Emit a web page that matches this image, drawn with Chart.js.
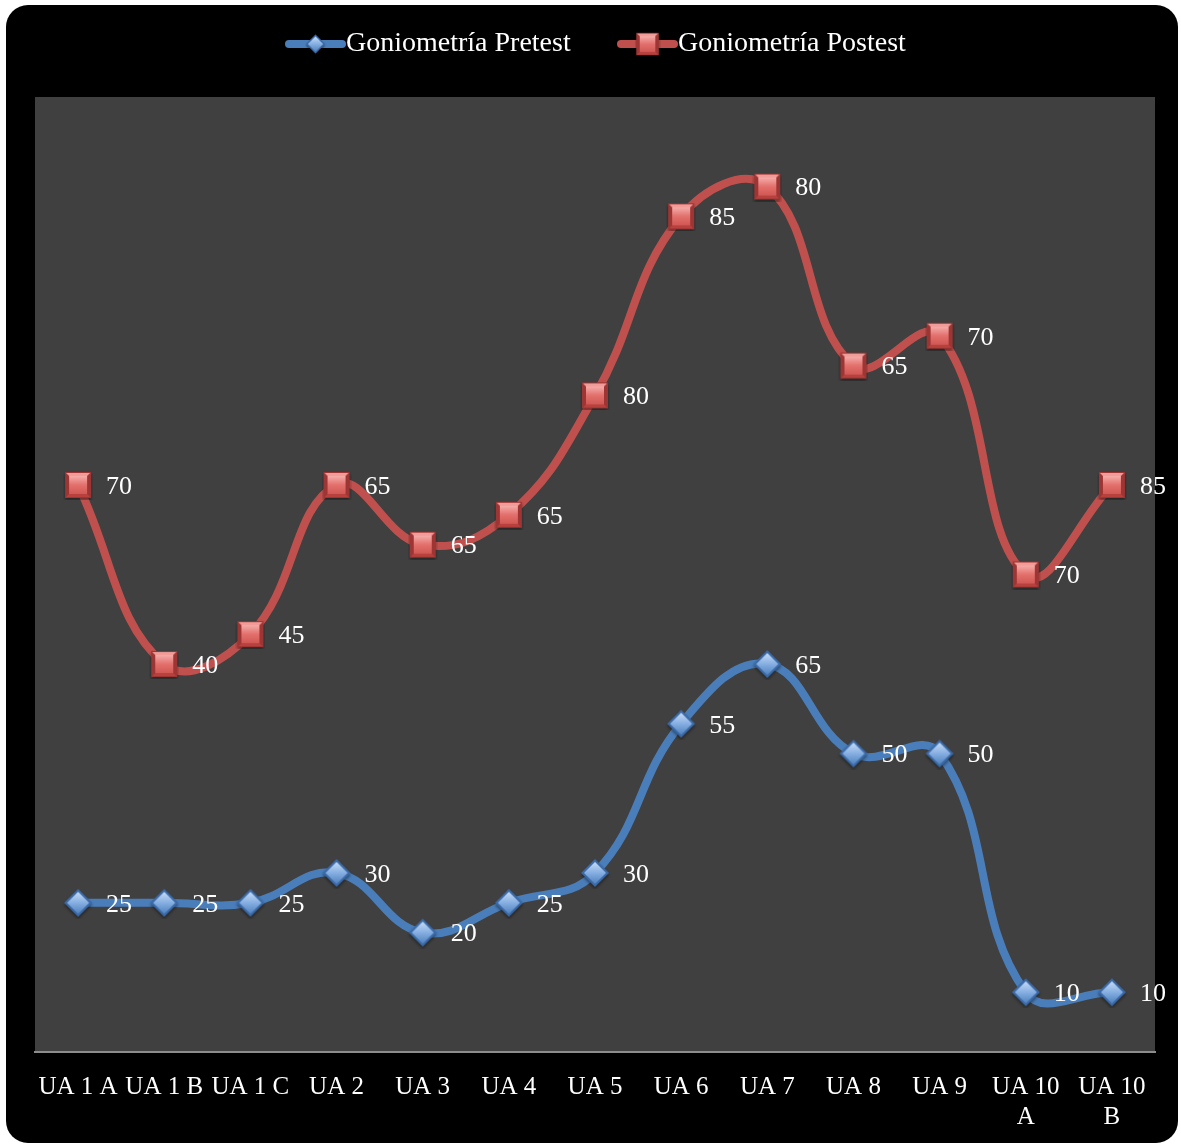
<!DOCTYPE html>
<html>
<head>
<meta charset="utf-8">
<title>Goniometría</title>
<script src="https://cdn.jsdelivr.net/npm/chart.js@4.4.1/dist/chart.umd.min.js"></script>
<style>
  html, body { margin: 0; padding: 0; background: #ffffff; }
  #wrap { position: relative; width: 1181px; height: 1145px; }
</style>
</head>
<body>
<div id="wrap"><canvas id="chart" width="1181" height="1145"></canvas></div>
<script>
// Categories and the two series (the post-test line is stacked on the pre-test one)
const categories = ['UA 1 A', 'UA 1 B', 'UA 1 C', 'UA 2', 'UA 3', 'UA 4', 'UA 5',
                    'UA 6', 'UA 7', 'UA 8', 'UA 9', 'UA 10 A', 'UA 10 B'];
const pretest  = [25, 25, 25, 30, 20, 25, 30, 55, 65, 50, 50, 10, 10];
const postest  = [70, 40, 45, 65, 65, 65, 80, 85, 80, 65, 70, 70, 85];
const seriesNames = ['Goniometría Pretest', 'Goniometría Postest'];

const FONT = "'Liberation Serif', 'Times New Roman', serif";
const BLUE = '#4a7ebb';
const RED = '#c0504d';

// Bevelled marker images
function makeDiamond(size) {
  const c = document.createElement('canvas');
  c.width = size + 4; c.height = size + 4;
  const g = c.getContext('2d');
  const cx = c.width / 2, cy = c.height / 2, r = size / 2;
  g.shadowColor = 'rgba(0,0,0,0.45)'; g.shadowBlur = 3; g.shadowOffsetY = 2;
  g.beginPath();
  g.moveTo(cx, cy - r); g.lineTo(cx + r, cy); g.lineTo(cx, cy + r); g.lineTo(cx - r, cy); g.closePath();
  g.fillStyle = '#3b6aa8'; g.fill();
  g.shadowColor = 'transparent';
  const ir = r - 3;
  const grad = g.createLinearGradient(cx, cy - ir, cx, cy + ir);
  grad.addColorStop(0, '#c6dcf6'); grad.addColorStop(0.5, '#86afe2'); grad.addColorStop(1, '#4f81bd');
  g.beginPath();
  g.moveTo(cx, cy - ir); g.lineTo(cx + ir, cy); g.lineTo(cx, cy + ir); g.lineTo(cx - ir, cy); g.closePath();
  g.fillStyle = grad; g.fill();
  return c;
}
function makeSquare(size) {
  const c = document.createElement('canvas');
  c.width = size + 4; c.height = size + 4;
  const g = c.getContext('2d');
  const x0 = 2, y0 = 2;
  g.shadowColor = 'rgba(0,0,0,0.45)'; g.shadowBlur = 3; g.shadowOffsetY = 2;
  g.fillStyle = '#9c3533'; g.fillRect(x0, y0, size, size);
  g.shadowColor = 'transparent';
  // bevel faces
  const b = 3;
  g.fillStyle = '#f19c99';
  g.beginPath(); g.moveTo(x0 + 1, y0 + 1); g.lineTo(x0 + size - 1, y0 + 1); g.lineTo(x0 + size - 1 - b, y0 + 1 + b); g.lineTo(x0 + 1 + b, y0 + 1 + b); g.closePath(); g.fill();
  g.fillStyle = '#b8413e';
  g.beginPath(); g.moveTo(x0 + 1, y0 + size - 1); g.lineTo(x0 + size - 1, y0 + size - 1); g.lineTo(x0 + size - 1 - b, y0 + size - 1 - b); g.lineTo(x0 + 1 + b, y0 + size - 1 - b); g.closePath(); g.fill();
  const grad = g.createLinearGradient(0, y0 + b, 0, y0 + size - b);
  grad.addColorStop(0, '#f7b3b0'); grad.addColorStop(0.5, '#e3706c'); grad.addColorStop(1, '#cf5652');
  g.fillStyle = grad;
  g.fillRect(x0 + 1 + b, y0 + 1 + b, size - 2 - 2 * b, size - 2 - 2 * b);
  return c;
}
const diamondImg = makeDiamond(28);
const squareImg = makeSquare(26);

// Frame, plot background and hand-drawn legend
const framePlugin = {
  id: 'frame',
  beforeDraw(chart) {
    const ctx = chart.ctx, a = chart.chartArea;
    ctx.save();
    ctx.fillStyle = '#ffffff';
    ctx.fillRect(0, 0, chart.width, chart.height);
    ctx.fillStyle = '#000000';
    ctx.beginPath();
    ctx.roundRect(6, 5, 1172, 1138, 22);
    ctx.fill();
    ctx.fillStyle = '#404040';
    ctx.fillRect(a.left, a.top, a.right - a.left, a.bottom - a.top);
    ctx.restore();
  },
  afterDraw(chart) {
    const ctx = chart.ctx;
    ctx.save();
    ctx.font = '28px ' + FONT;
    ctx.textBaseline = 'middle';
    const lineW = 61, y = 44;
    const starts = [285, 617];
    const items = [[BLUE, diamondImg, seriesNames[0], 22], [RED, squareImg, seriesNames[1], 26]];
    items.forEach(([col, img, txt, s], i) => {
      const x = starts[i];
      ctx.strokeStyle = col; ctx.lineWidth = 8; ctx.lineCap = 'round';
      ctx.beginPath(); ctx.moveTo(x + 4, y); ctx.lineTo(x + lineW - 4, y); ctx.stroke();
      ctx.drawImage(img, x + lineW / 2 - s / 2, y - s / 2, s, s);
      ctx.fillStyle = '#ffffff';
      ctx.fillText(txt, x + lineW, y);
    });
    ctx.restore();
  }
};

// Value labels to the right of each marker
const valueLabels = {
  id: 'valueLabels',
  afterDatasetsDraw(chart) {
    const ctx = chart.ctx;
    ctx.save();
    ctx.font = '26px ' + FONT;
    ctx.fillStyle = '#ffffff';
    ctx.textBaseline = 'middle';
    ctx.textAlign = 'left';
    chart.data.datasets.forEach((ds, i) => {
      chart.getDatasetMeta(i).data.forEach((pt, j) => {
        ctx.fillText(String(ds.data[j]), pt.x + 28, pt.y + 2);
      });
    });
    ctx.restore();
  }
};

new Chart(document.getElementById('chart'), {
  type: 'line',
  data: {
    labels: categories,
    datasets: [
      {
        label: seriesNames[0], data: pretest,
        borderColor: BLUE, borderWidth: 8, tension: 0.42,
        pointStyle: diamondImg, pointRadius: 14, pointHoverRadius: 14,
        fill: false, order: 0
      },
      {
        label: seriesNames[1], data: postest,
        borderColor: RED, borderWidth: 8, tension: 0.42,
        pointStyle: squareImg, pointRadius: 13, pointHoverRadius: 13,
        fill: false, order: 1
      }
    ]
  },
  options: {
    responsive: false,
    animation: false,
    layout: { padding: { top: 97, left: 35, right: 26, bottom: 0 } },
    plugins: { legend: { display: false }, tooltip: { enabled: false } },
    scales: {
      x: {
        offset: true,
        grid: { display: false },
        border: { display: true, color: '#8c8c8c', width: 2 },
        ticks: {
          color: '#ffffff', font: { family: FONT, size: 25 }, padding: 12,
          autoSkip: false, maxRotation: 0, minRotation: 0,
          callback(v) {
            const s = categories[v];
            const m = s.match(/^(UA \d{2}) (\w)$/);
            return m ? [m[1], m[2]] : s;
          }
        },
        afterFit(scale) { scale.height = 93; }
      },
      y: {
        display: false, stacked: true, min: 0, max: 160
      }
    }
  },
  plugins: [framePlugin, valueLabels]
});
</script>
</body>
</html>
